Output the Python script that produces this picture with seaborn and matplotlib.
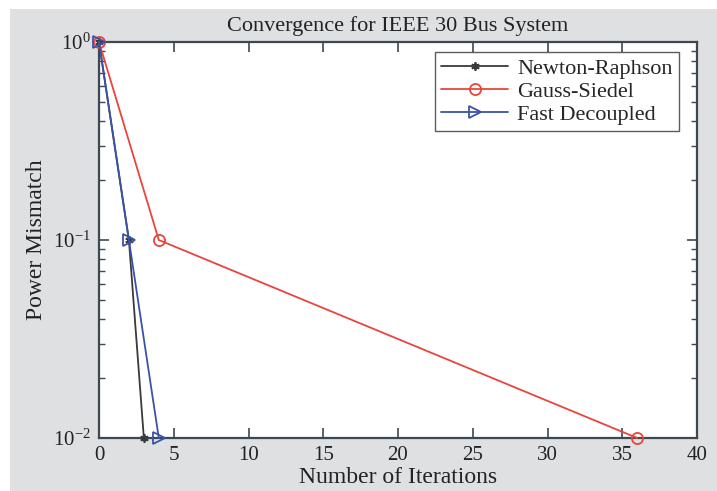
import matplotlib
matplotlib.use("Agg")
import matplotlib.pyplot as plt
import matplotlib.patches as mpatches
from matplotlib.ticker import LogLocator, FixedLocator, NullFormatter
import seaborn as sns
import pandas as pd

# Convergence history: iteration number and power mismatch for each method
nr_iter = [0, 2, 3]
nr_mismatch = [1.0, 0.1, 0.01]
gs_iter = [0, 4, 36]
gs_mismatch = [1.0, 0.1, 0.01]
fd_iter = [0, 2, 4]
fd_mismatch = [1.0, 0.1, 0.01]

x_ticks = [0, 5, 10, 15, 20, 25, 30, 35, 40]
y_ticks = [0.01, 0.1, 1.0]
y_tick_labels = [r"$\mathregular{10^{-2}}$", r"$\mathregular{10^{-1}}$", r"$\mathregular{10^{0}}$"]

sns.set_theme(style="white")
plt.rcParams["font.family"] = ["Liberation Serif", "DejaVu Serif"]
plt.rcParams["mathtext.fontset"] = "custom"
plt.rcParams["mathtext.rm"] = "Liberation Serif"

frames = []
for name, xs, ys in [("Newton-Raphson", nr_iter, nr_mismatch),
                     ("Gauss-Siedel", gs_iter, gs_mismatch),
                     ("Fast Decoupled", fd_iter, fd_mismatch)]:
    frames.append(pd.DataFrame({"iter": xs, "mismatch": ys, "method": name}))
df = pd.concat(frames, ignore_index=True)

fig = plt.figure(figsize=(7.17, 4.91), dpi=100, facecolor="white")
# grey panel behind the axes
fig.patches.append(mpatches.Rectangle((10 / 717, 0), 1 - 10 / 717, 1 - 9 / 491,
                                      transform=fig.transFigure, facecolor="#dfe0e2",
                                      edgecolor="none", zorder=-10))
ax = fig.add_axes([99 / 717, 1 - 438 / 491, (697 - 99) / 717, (438 - 42) / 491])
ax.set_facecolor("white")

styles = {
    "Newton-Raphson": dict(color="#3a3a3a", marker=(6, 2, 0), ms=6, mfc="#3a3a3a"),
    "Gauss-Siedel": dict(color="#e8453c", marker="o", ms=8, mfc="none"),
    "Fast Decoupled": dict(color="#3a52a8", marker=">", ms=8, mfc="none"),
}
for name in ["Newton-Raphson", "Gauss-Siedel", "Fast Decoupled"]:
    st = styles[name]
    sns.lineplot(data=df[df["method"] == name], x="iter", y="mismatch", ax=ax,
                 color=st["color"], marker=st["marker"], markersize=st["ms"],
                 markerfacecolor=st["mfc"], markeredgecolor=st["color"],
                 markeredgewidth=1.3, linewidth=1.3, label=name, sort=False,
                 clip_on=False, zorder=3)

ax.set_yscale("log")
ax.set_xlim(0, 40)
ax.set_ylim(0.01, 1.0)
ax.xaxis.set_major_locator(FixedLocator(x_ticks))
ax.set_xticklabels([str(t) for t in x_ticks])
ax.yaxis.set_major_locator(FixedLocator(y_ticks))
ax.set_yticklabels(y_tick_labels)
ax.yaxis.set_minor_locator(LogLocator(base=10, subs=range(2, 10)))
ax.yaxis.set_minor_formatter(NullFormatter())

spine_col = "#3c4852"
for s in ax.spines.values():
    s.set_color(spine_col)
    s.set_linewidth(1.6)
ax.tick_params(which="both", direction="in", top=True, right=True, bottom=True, left=True,
               color=spine_col, labelsize=15, labelcolor="#222222")
ax.tick_params(which="major", length=7, width=1.2, pad=6)
ax.tick_params(which="minor", length=4, width=1.0)

ax.set_xlabel("Number of Iterations", fontsize=17, color="#222222", labelpad=1)
ax.set_ylabel("Power Mismatch", fontsize=17, color="#222222", labelpad=4)
ax.set_title("Convergence for IEEE 30 Bus System", fontsize=16, color="#222222", pad=8)

leg = ax.legend(loc="upper right", bbox_to_anchor=(0.97, 0.975), fontsize=16,
                frameon=True, fancybox=False, borderpad=0.3, labelspacing=0.1,
                handlelength=3.0, handletextpad=0.4, borderaxespad=0)
leg.get_frame().set_edgecolor("#333333")
leg.get_frame().set_linewidth(1.0)

fig.savefig("out.png", dpi=100, facecolor=fig.get_facecolor())
